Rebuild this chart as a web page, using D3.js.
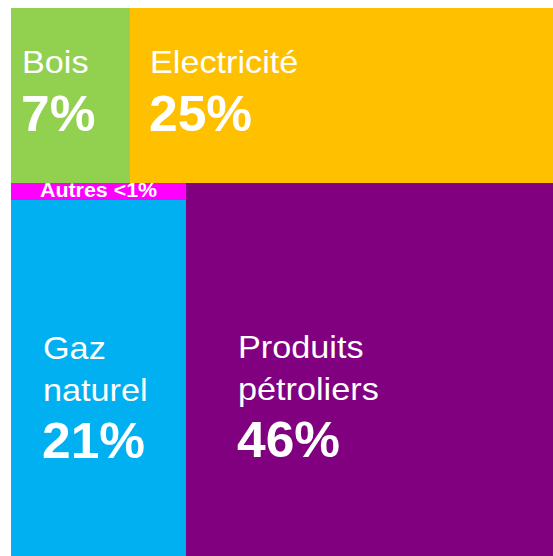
<!DOCTYPE html>
<html>
<head>
<meta charset="utf-8">
<script src="https://cdn.jsdelivr.net/npm/d3@7"></script>
<style>
    body { margin: 0; background: #fff; }
    text { font-family: "Liberation Sans", Arial, sans-serif; fill: #fff; }
</style>
</head>
<body>
<div id="chart"></div>
<script>
// Energy mix (share of consumption, %)
var names = ["Bois", "Electricité", "Autres", "Gaz naturel", "Produits pétroliers"];
var values = [7, 25, 1, 21, 46];
var labels = ["7%", "25%", "<1%", "21%", "46%"];
var colors = ["#92D050", "#FFC000", "#FF00FF", "#00B0F0", "#800080"];

function init() {
    var w = 553;
    var h = 556;
    var left = 11;
    var top = 8;

    // build the nested tree: top row, then bottom row (left column + petroleum)
    var leaf = function(i) { return { name: names[i], value: values[i], label: labels[i], color: colors[i] }; };
    var tree = {
        name: "root",
        children: [
            { name: "haut", children: [leaf(0), leaf(1)] },
            { name: "bas", children: [
                { name: "gauche", children: [leaf(2), leaf(3)] },
                leaf(4)
            ] }
        ]
    };

    var root = d3.hierarchy(tree).sum(function(d) { return d.value || 0; });

    // rows at even depth, columns at odd depth
    var tile = function(node, x0, y0, x1, y1) {
        (node.depth % 2 ? d3.treemapDice : d3.treemapSlice)(node, x0, y0, x1, y1);
    };

    d3.treemap()
        .tile(tile)
        .size([w - left, h - top])
        .round(true)(root);

    var svg = d3.select("#chart")
        .append("svg")
        .attr("width", w)
        .attr("height", h);

    var g = svg.append("g")
        .attr("transform", "translate(" + left + "," + top + ")");

    var cells = g.selectAll("g.cell")
        .data(root.leaves())
        .enter()
        .append("g")
        .attr("class", "cell")
        .attr("transform", function(d) { return "translate(" + d.x0 + "," + d.y0 + ")"; });

    cells.append("rect")
        .attr("width", function(d) { return d.x1 - d.x0; })
        .attr("height", function(d) { return d.y1 - d.y0; })
        .attr("fill", function(d) { return d.data.color; });

    // label placement inside each cell (name lines + big percentage)
    var labelPos = {
        "Bois":                { dx: 11, lines: ["Bois"], y: 65, py: 123 },
        "Electricité":         { dx: 20, lines: ["Electricité"], y: 65, py: 123 },
        "Gaz naturel":         { dx: 32, lines: ["Gaz", "naturel"], y: 159, py: 258 },
        "Produits pétroliers": { dx: 52, lines: ["Produits", "pétroliers"], y: 175, py: 274 }
    };

    var stretch = 1.07; // the original text is slightly wider than Arial

    cells.each(function(d) {
        var cell = d3.select(this);
        var cw = d.x1 - d.x0;

        if (d.data.name === "Autres") {
            cell.append("text")
                .attr("transform", "translate(" + (cw / 2) + ",14) scale(" + stretch + ",1)")
                .attr("text-anchor", "middle")
                .style("font-size", "20px")
                .style("font-weight", "bold")
                .text("Autres " + d.data.label);
            return;
        }

        var p = labelPos[d.data.name];
        var nameText = cell.append("text")
            .attr("transform", "translate(" + p.dx + "," + p.y + ") scale(" + stretch + ",1)")
            .style("font-size", "32px");
        p.lines.forEach(function(line, i) {
            nameText.append("tspan")
                .attr("x", 0)
                .attr("dy", i === 0 ? 0 : 42)
                .text(line);
        });

        cell.append("text")
            .attr("transform", "translate(" + (p.dx - 1) + "," + p.py + ") scale(1.03,1)")
            .style("font-size", "50px")
            .style("font-weight", "bold")
            .text(d.data.label);
    });
}

window.onload = init;
</script>
</body>
</html>
